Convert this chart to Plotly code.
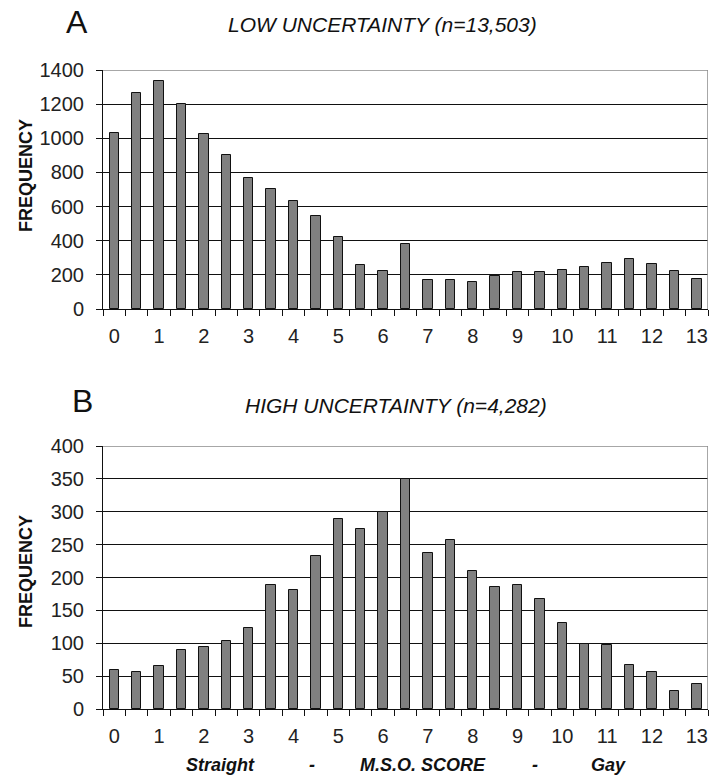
import plotly.graph_objects as go

scores = [i * 0.5 for i in range(27)]
low_freq = [1030, 1265, 1333, 1198, 1027, 902, 767, 704, 635, 545, 420, 259, 222,
            382, 169, 169, 161, 196, 216, 216, 229, 245, 269, 290, 261, 222, 175]
high_freq = [59, 57, 65, 89, 95, 103, 123, 188, 181, 232, 289, 274, 299,
             350, 238, 257, 210, 186, 188, 167, 131, 99, 97, 67, 57, 28, 38]
x_tick_vals = list(range(14))
x_tick_text = [str(v) for v in x_tick_vals]
low_y_ticks = [0, 200, 400, 600, 800, 1000, 1200, 1400]
high_y_ticks = [0, 50, 100, 150, 200, 250, 300, 350, 400]

FONT = "Liberation Sans, Arial, sans-serif"
BAR_COLOR = "#808080"

# the page's body margin is removed (post_script), so figure pixels = window pixels
W, H = 710, 775
ML, MR, MT, MB = 103, 2, 70, 66
PW = W - ML - MR
PH = H - MT - MB

fig = go.Figure()
fig.add_trace(go.Bar(x=scores, y=low_freq, width=0.21, marker=dict(color=BAR_COLOR, line=dict(color="#111", width=1)),
                     xaxis="x", yaxis="y", showlegend=False))
fig.add_trace(go.Bar(x=scores, y=high_freq, width=0.21, marker=dict(color=BAR_COLOR, line=dict(color="#111", width=1)),
                     xaxis="x2", yaxis="y2", showlegend=False))

def px_to_paper_y(py):
    return (H - MB - py) / PH

def px_to_paper_x(px):
    return (px - ML) / PW

def xaxis_cfg(anchor):
    return dict(anchor=anchor, domain=[0, 1], range=[-0.25, 13.25],
                tickmode="array", tickvals=x_tick_vals, ticktext=x_tick_text, ticks="",
                showline=True, linecolor="#111", linewidth=1, showgrid=False, zeroline=False,
                tickfont=dict(family=FONT, size=20, color="#222"), ticklabelstandoff=9,
                minor=dict(tick0=-0.25, dtick=0.5, ticks="outside", ticklen=6, tickcolor="#111", tickwidth=1, showgrid=False))

def yaxis_cfg(anchor, domain, rng, tv):
    return dict(anchor=anchor, domain=domain, range=rng, tickmode="array", tickvals=tv,
                ticks="outside", ticklen=6, tickcolor="#111", tickwidth=1,
                showline=True, linecolor="#111", linewidth=1,
                showgrid=True, gridcolor="#111", gridwidth=1, zeroline=False,
                tickfont=dict(family=FONT, size=20, color="#222"), ticklabelstandoff=8)

a_bottom = px_to_paper_y(309)
b_top = px_to_paper_y(446)

fig.update_layout(
    width=W, height=H,
    margin=dict(l=ML, r=MR, t=MT, b=MB),
    paper_bgcolor="white", plot_bgcolor="white",
    bargap=0,
    xaxis=xaxis_cfg("y"),
    yaxis=yaxis_cfg("x", [a_bottom, 1.0], [0, 1400], low_y_ticks),
    xaxis2=xaxis_cfg("y2"),
    yaxis2=yaxis_cfg("x2", [0.0, b_top], [0, 400], high_y_ticks),
)

# gray border on top and right of each plot area
for xr, yr, top in (("x", "y", 1400), ("x2", "y2", 400)):
    fig.add_shape(type="line", xref=xr, yref=yr, x0=-0.25, x1=13.25, y0=top, y1=top,
                  line=dict(color="#8a8a8a", width=1.5), layer="above")
    fig.add_shape(type="line", xref=xr, yref=yr, x0=13.25, x1=13.25, y0=0, y1=top,
                  line=dict(color="#8a8a8a", width=1.5), layer="above")

annots = [
    dict(text="A", x=77, y=22, size=32, italic=False, bold=False),
    dict(text="LOW UNCERTAINTY (n=13,503)", x=382, y=24, size=21, italic=True, bold=False),
    dict(text="B", x=82, y=401, size=32, italic=False, bold=False),
    dict(text="HIGH UNCERTAINTY (n=4,282)", x=396, y=405, size=21, italic=True, bold=False),
    dict(text="Straight", x=220, y=765, size=18, italic=True, bold=True),
    dict(text="-", x=312, y=765, size=18, italic=True, bold=True),
    dict(text="M.S.O. SCORE", x=423, y=765, size=18, italic=True, bold=True),
    dict(text="-", x=535, y=765, size=18, italic=True, bold=True),
    dict(text="Gay", x=608, y=765, size=18, italic=True, bold=True),
]
for a in annots:
    t = a["text"]
    if a["bold"]:
        t = "<b>" + t + "</b>"
    if a["italic"]:
        t = "<i>" + t + "</i>"
    fig.add_annotation(text=t, xref="paper", yref="paper", x=px_to_paper_x(a["x"]), y=px_to_paper_y(a["y"]),
                       xanchor="center", yanchor="middle", showarrow=False,
                       font=dict(family=FONT, size=a["size"], color="#111"))

for yc in (176, 572):
    fig.add_annotation(text="<b>FREQUENCY</b>", xref="paper", yref="paper", x=px_to_paper_x(26), y=px_to_paper_y(yc),
                       xanchor="center", yanchor="middle", showarrow=False, textangle=-90,
                       font=dict(family=FONT, size=18, color="#111"))

fig.write_html("out.html", config={"displayModeBar": False},
               post_script="document.body.style.margin='0';")
